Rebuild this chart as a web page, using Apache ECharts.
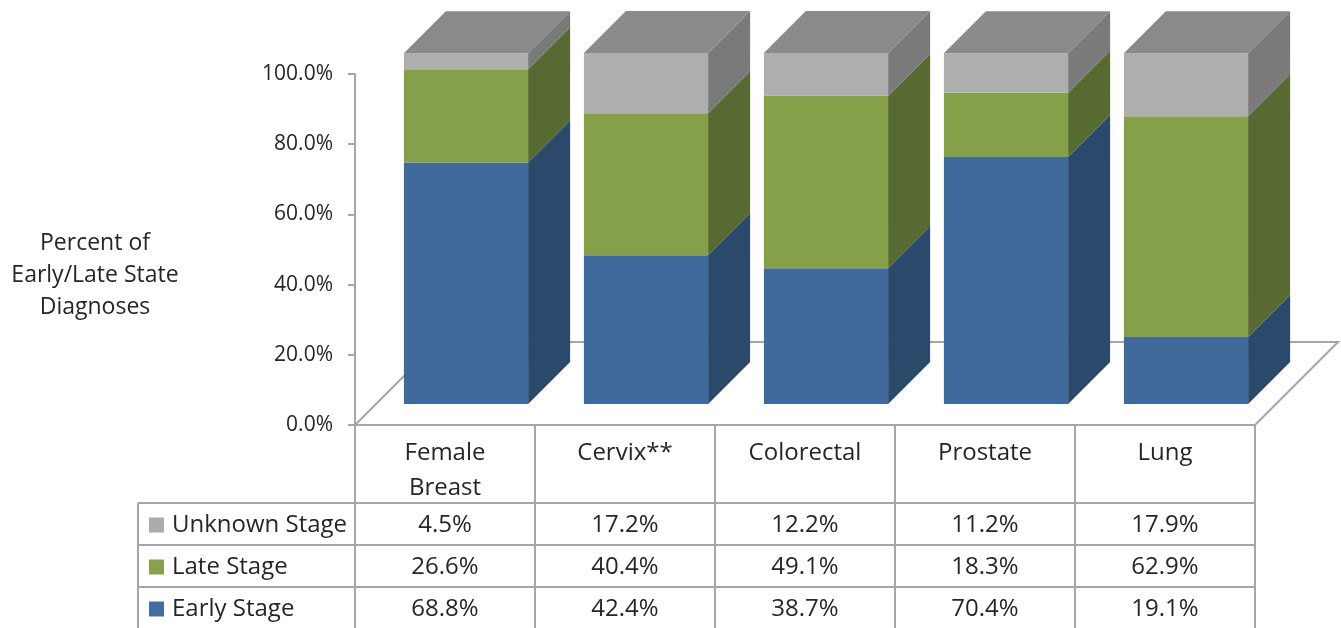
<!DOCTYPE html>
<html>
<head>
<meta charset="utf-8">
<script src="https://cdn.jsdelivr.net/npm/echarts@6/dist/echarts.min.js"></script>
<style>
  html, body { margin: 0; padding: 0; background: #fff; }
  #chart { width: 1341px; height: 628px; }
</style>
</head>
<body>
<div id="chart"></div>
<script>
// Share of diagnoses by stage, per cancer site (percent)
const categories   = ['Female\nBreast', 'Cervix**', 'Colorectal', 'Prostate', 'Lung'];
const earlyStage   = [68.8, 42.4, 38.7, 70.4, 19.1];
const lateStage    = [26.6, 40.4, 49.1, 18.3, 62.9];
const unknownStage = [4.5, 17.2, 12.2, 11.2, 17.9];
const stackOrder   = ['Early Stage', 'Late Stage', 'Unknown Stage'];   // bottom to top
const tableRows    = ['Unknown Stage', 'Late Stage', 'Early Stage'];   // top to bottom
const yTicks       = [0, 20, 40, 60, 80, 100];
const axisTitle    = ['Percent of', 'Early/Late State', 'Diagnoses'];

const stageValues = {
  'Early Stage': earlyStage,
  'Late Stage': lateStage,
  'Unknown Stage': unknownStage
};

const FONT = '"Open Sans", "Liberation Sans", sans-serif';
const TEXT = '#262626';
const LINE = '#a6a6a6';
const DEPTH = 42;      // depth of each box, receding at 45 degrees
const SHIFT = 21;      // boxes stand a quarter of the floor depth behind its front edge
const FLOOR = 83;      // floor depth
const HEADER_H = 78;   // category row of the data table
const ROW_H = 42;      // stage rows of the data table
const TABLE_LEFT = 138;

const faces = {
  'Early Stage':   { front: '#416a9c', side: '#2b4a6b', key: '#436c9f' },
  'Late Stage':    { front: '#86a04a', side: '#566a31', key: '#88a24c' },
  'Unknown Stage': { front: '#aeaeae', side: '#7a7a7a', top: '#8a8a8a', key: '#ababab' }
};

// running base of each stacked segment
const bases = {};
{
  let run = categories.map(() => 0);
  stackOrder.forEach(s => {
    bases[s] = run.slice();
    run = run.map((b, i) => b + stageValues[s][i]);
  });
}

function segmentRenderer(stage, isTop) {
  return function (params, api) {
    const i = api.value(0);
    const lo = api.value(1);
    const hi = lo + api.value(2);
    const band = api.size([1, 0])[0];
    const w = band * 0.69;
    const cx = api.coord([i, 0])[0] + SHIFT;
    const yLo = api.coord([i, lo])[1] - SHIFT;
    const yHi = api.coord([i, hi])[1] - SHIFT;
    const x0 = cx - w / 2, x1 = cx + w / 2;
    const f = faces[stage];
    const children = [
      { type: 'rect', shape: { x: x0, y: yHi, width: w, height: yLo - yHi },
        style: { fill: f.front } },
      { type: 'polygon',
        shape: { points: [[x1, yLo], [x1, yHi], [x1 + DEPTH, yHi - DEPTH], [x1 + DEPTH, yLo - DEPTH]] },
        style: { fill: f.side } }
    ];
    if (isTop) {
      children.push({ type: 'polygon',
        shape: { points: [[x0, yHi], [x1, yHi], [x1 + DEPTH, yHi - DEPTH], [x0 + DEPTH, yHi - DEPTH]] },
        style: { fill: f.top } });
    }
    return { type: 'group', children };
  };
}

function floorRenderer(params, api) {
  const cs = params.coordSys;
  const yb = cs.y + cs.height;
  return {
    type: 'polygon',
    shape: { points: [[cs.x, yb], [cs.x + cs.width, yb], [cs.x + cs.width + FLOOR, yb - FLOOR], [cs.x + FLOOR, yb - FLOOR]] },
    style: { fill: '#fff', stroke: LINE, lineWidth: 2 }
  };
}

function tableRenderer(params, api) {
  const cs = params.coordSys;
  const i = api.value(0);
  const band = api.size([1, 0])[0];
  const cx = api.coord([i, 0])[0];
  const top = cs.y + cs.height;
  const bottom = top + HEADER_H + ROW_H * tableRows.length;
  const right = cs.x + cs.width;
  const children = [];
  const lineStyle = { stroke: LINE, lineWidth: 2 };

  // right border of this category column
  children.push({ type: 'line', shape: { x1: cx + band / 2, y1: top, x2: cx + band / 2, y2: bottom }, style: lineStyle });

  if (params.dataIndex === 0) {
    children.push({ type: 'line', shape: { x1: cs.x, y1: top, x2: cs.x, y2: bottom }, style: lineStyle });
    children.push({ type: 'line', shape: { x1: TABLE_LEFT, y1: top + HEADER_H, x2: TABLE_LEFT, y2: bottom }, style: lineStyle });
    tableRows.forEach((r, k) => {
      const y = top + HEADER_H + ROW_H * k;
      children.push({ type: 'line', shape: { x1: TABLE_LEFT, y1: y, x2: right, y2: y }, style: lineStyle });
    });
  }

  tableRows.forEach((r, k) => {
    const y = top + HEADER_H + ROW_H * k + ROW_H / 2 + 1;
    children.push({
      type: 'text',
      style: {
        text: stageValues[r][i].toFixed(1) + '%',
        x: cx, y: y, align: 'center', verticalAlign: 'middle',
        fontSize: 24, fontFamily: FONT, fill: TEXT
      }
    });
  });
  return { type: 'group', children };
}

const series = [
  {
    type: 'custom',
    name: 'floor',
    data: [[0]],
    renderItem: floorRenderer,
    z: 1,
    silent: true
  }
];

stackOrder.forEach((s, k) => {
  series.push({
    type: 'custom',
    name: s,
    itemStyle: { color: faces[s].key },
    data: categories.map((c, i) => [i, bases[s][i], stageValues[s][i]]),
    renderItem: segmentRenderer(s, k === stackOrder.length - 1),
    z: 3,
    silent: true
  });
});

series.push({
  type: 'custom',
  name: 'table',
  data: categories.map((c, i) => [i]),
  renderItem: tableRenderer,
  z: 2,
  silent: true
});

const chart = echarts.init(document.getElementById('chart'));
chart.setOption({
  animation: false,
  backgroundColor: '#fff',
  grid: { left: 355, right: 86, top: 74, bottom: 203, containLabel: false },
  xAxis: {
    type: 'category',
    data: categories,
    axisLine: { show: false },
    axisTick: { show: false },
    splitLine: { show: false },
    axisLabel: {
      margin: 11,
      fontSize: 24,
      lineHeight: 35,
      fontFamily: FONT,
      color: TEXT,
      interval: 0
    }
  },
  yAxis: {
    type: 'value',
    min: yTicks[0],
    max: yTicks[yTicks.length - 1],
    interval: yTicks[1] - yTicks[0],
    axisLine: { show: true, lineStyle: { color: LINE, width: 2 } },
    axisTick: { show: true, length: 7, lineStyle: { color: LINE, width: 2 } },
    splitLine: { show: false },
    axisLabel: {
      margin: 22,
      fontSize: 21,
      fontFamily: FONT,
      color: TEXT,
      formatter: v => v.toFixed(1) + '%'
    }
  },
  legend: {
    orient: 'vertical',
    left: 149,
    top: 511,
    padding: 0,
    icon: 'rect',
    itemWidth: 15,
    itemHeight: 15,
    itemGap: 14,
    selectedMode: false,
    data: tableRows.map(r => ({ name: r, itemStyle: { color: faces[r].key } })),
    textStyle: { fontSize: 24, lineHeight: 28, fontFamily: FONT, color: TEXT, padding: [0, 0, 0, 3] }
  },
  graphic: [
    {
      type: 'text',
      style: {
        text: axisTitle.join('\n'),
        x: 95, y: 275,
        align: 'center', verticalAlign: 'middle',
        fontSize: 23, lineHeight: 32,
        fontFamily: FONT, fill: TEXT
      }
    }
  ],
  series
});
</script>
</body>
</html>
